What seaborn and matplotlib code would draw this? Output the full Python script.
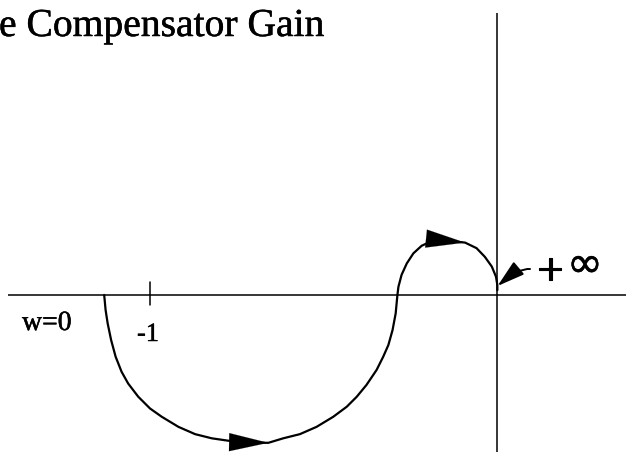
import numpy as np
import pandas as pd
import matplotlib
matplotlib.use("Agg")
import matplotlib.pyplot as plt
import matplotlib.patheffects as pe
import seaborn as sns

# Nyquist locus of the compensated loop (real part, imaginary part)
re_part = [-1.132, -1.128, -1.122, -1.112, -1.099, -1.082, -1.063, -1.034,
           -1.000, -0.966, -0.918, -0.870, -0.822, -0.774, -0.718, -0.659,
           -0.616, -0.568, -0.520, -0.472, -0.433, -0.404, -0.376, -0.347,
           -0.328, -0.313, -0.301, -0.292, -0.287, -0.284, -0.275, -0.260,
           -0.241, -0.217, -0.193, -0.141, -0.092, -0.059, -0.035, -0.015,
           -0.003, 0.001, 0.001]
im_part = [0.000, -0.043, -0.082, -0.130, -0.178, -0.221, -0.255, -0.293,
           -0.327, -0.351, -0.380, -0.401, -0.413, -0.420, -0.425, -0.426,
           -0.413, -0.401, -0.380, -0.351, -0.322, -0.293, -0.259, -0.216,
           -0.178, -0.144, -0.101, -0.053, 0.000, 0.024, 0.058, 0.091,
           0.120, 0.142, 0.153, 0.156, 0.151, 0.135, 0.110, 0.082,
           0.053, 0.029, 0.014]

# indices of curve points that carry direction arrows
arrow_idx = [15, 36]

critical_point = -1.0
title_text = "e Compensator Gain"
start_label = "w=0"
critical_label = "-1"

df = pd.DataFrame({"Re": re_part, "Im": im_part})

sns.set_style("white")
plt.rcParams["font.family"] = ["Liberation Serif", "DejaVu Serif"]

fig = plt.figure(figsize=(6.4, 4.54), dpi=100)
ax = fig.add_axes([0, 0, 1, 1])

# pixel layout: origin at (497, 295), 347 px per unit
unit = 347.0
x0, y0 = 497.0, 295.0
ax.set_xlim((0 - x0) / unit, (640 - x0) / unit)
ax.set_ylim((y0 - 454) / unit, y0 / unit)
ax.axis("off")


def px(x):
    return (x - x0) / unit


def py(y):
    return (y0 - y) / unit


ink = [pe.withStroke(linewidth=0.35, foreground="black")]

# real and imaginary axes
ax.plot([px(8), px(626)], [0, 0], color="black", lw=1.1, solid_capstyle="butt")
ax.plot([0, 0], [py(452), py(13)], color="black", lw=1.1, solid_capstyle="butt")

# tick at the critical point
ax.plot([critical_point, critical_point], [13 / unit, -10 / unit],
        color="black", lw=1.1)

# the locus
sns.lineplot(data=df, x="Re", y="Im", sort=False, estimator=None,
             color="black", lw=1.6, ax=ax)
for ln in ax.get_lines():
    ln.set_solid_joinstyle("round")

# direction arrows along the locus
for i in arrow_idx:
    tip = (re_part[i], im_part[i])
    prev = (re_part[i - 1], im_part[i - 1])
    ax.annotate("", xy=tip, xytext=prev,
                arrowprops=dict(arrowstyle="-|>,head_length=2.8,head_width=0.65",
                                color="black", lw=0.1, shrinkA=0, shrinkB=0))

# leader arrow to the point at infinity
ax.annotate("", xy=(px(497.5), py(286)), xytext=(px(530), py(269)),
            arrowprops=dict(arrowstyle="-|>,head_length=1.7,head_width=0.5",
                            color="black", lw=1.4, shrinkA=0, shrinkB=0,
                            connectionstyle="angle3,angleA=175,angleB=40"))

ax.text(px(537), py(285), "+", fontsize=34, ha="left", va="baseline",
        color="black", path_effects=[pe.withStroke(linewidth=0.8,
                                                   foreground="black")])
ax.text(px(567), py(277), "\u221e", fontsize=31, ha="left", va="baseline",
        color="black", family=["DejaVu Sans"], path_effects=ink)

ax.text(px(22), py(330), start_label, fontsize=20, ha="left", va="baseline",
        color="black", path_effects=ink)
ax.text(px(137), py(341), critical_label, fontsize=19, ha="left",
        va="baseline", color="black", path_effects=ink)

ax.text(px(-1), py(36), title_text, fontsize=28.5, ha="left", va="baseline",
        color="black", path_effects=ink)

fig.savefig("out.png", dpi=100)
